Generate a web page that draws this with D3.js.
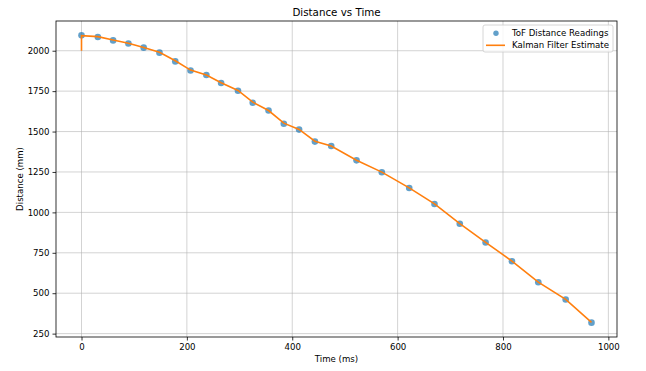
<!DOCTYPE html>
<html>
<head>
<meta charset="utf-8">
<script src="https://cdn.jsdelivr.net/npm/d3@7"></script>
<style>
  body { margin: 0; background: #fff; }
  text { font-family: "DejaVu Sans", sans-serif; fill: #000; }
</style>
</head>
<body>
<div id="chart"></div>
<script>
// ToF readings (time in ms, distance in mm)
var readTime = [0, 31, 60, 89, 118, 148, 178, 207, 237, 265, 297, 325, 355, 384, 413, 443, 474, 522, 570, 622, 670, 718, 767, 817, 867, 919, 968];
var readDist = [2095, 2085, 2064, 2045, 2019, 1988, 1934, 1878, 1850, 1800, 1752, 1678, 1630, 1548, 1512, 1438, 1411, 1322, 1248, 1151, 1052, 930, 814, 698, 568, 461, 318];

// Kalman filter estimate
var kfTime = [0, 0, 31, 60, 89, 118, 148, 178, 207, 237, 265, 297, 325, 355, 384, 413, 443, 474, 522, 570, 622, 670, 718, 767, 817, 867, 919, 968];
var kfDist = [2000, 2093, 2087, 2066, 2046, 2020, 1990, 1938, 1880, 1850, 1802, 1754, 1682, 1630, 1552, 1513, 1440, 1411, 1323, 1249, 1152, 1053, 931, 815, 699, 569, 462, 320];

var xTicks = [0, 200, 400, 600, 800, 1000];
var yTicks = [250, 500, 750, 1000, 1250, 1500, 1750, 2000];

var svgWidth = 646;
var svgHeight = 371;

var margin = { top: 21, right: 29, bottom: 34, left: 56 };
var chartWidth = svgWidth - margin.left - margin.right;
var chartHeight = svgHeight - margin.top - margin.bottom;

var svg = d3.select("#chart")
  .append("svg")
  .attr("width", svgWidth)
  .attr("height", svgHeight);

var chartGroup = svg.append("g")
  .attr("transform", `translate(${margin.left}, ${margin.top})`);

// matplotlib-like 5% padding
var xExt = d3.extent(readTime);
var xPad = (xExt[1] - xExt[0]) * 0.05;
var yExt = d3.extent(readDist.concat(kfDist));
var yPad = (yExt[1] - yExt[0]) * 0.05;

var xScale = d3.scaleLinear().domain([xExt[0] - xPad, xExt[1] + xPad]).range([0, chartWidth]);
var yScale = d3.scaleLinear().domain([yExt[0] - yPad, yExt[1] + yPad]).range([chartHeight, 0]);

// Grid
chartGroup.append("g").selectAll("line.vx").data(xTicks).enter()
  .append("line")
  .attr("x1", d => xScale(d)).attr("x2", d => xScale(d))
  .attr("y1", 0).attr("y2", chartHeight)
  .attr("stroke", "#b0b0b0").attr("stroke-opacity", 0.7).attr("stroke-width", 0.8);

chartGroup.append("g").selectAll("line.hy").data(yTicks).enter()
  .append("line")
  .attr("x1", 0).attr("x2", chartWidth)
  .attr("y1", d => yScale(d)).attr("y2", d => yScale(d))
  .attr("stroke", "#b0b0b0").attr("stroke-opacity", 0.7).attr("stroke-width", 0.8);

// Axes
var bottomAxis = d3.axisBottom(xScale).tickValues(xTicks).tickFormat(d3.format("d")).tickSize(3.5).tickPadding(3);
var leftAxis = d3.axisLeft(yScale).tickValues(yTicks).tickFormat(d3.format("d")).tickSize(3.5).tickPadding(3);

var gx = chartGroup.append("g").attr("transform", `translate(0, ${chartHeight})`).call(bottomAxis);
var gy = chartGroup.append("g").call(leftAxis);
[gx, gy].forEach(function(g) {
  g.attr("font-family", null).attr("font-size", null);
  g.select(".domain").remove();
  g.selectAll("text").style("font-family", "'DejaVu Sans', sans-serif").style("font-size", "8.6px").attr("fill", "#000");
  g.selectAll("line").attr("stroke", "#000").attr("stroke-width", 0.8);
});

// Spines
chartGroup.append("rect")
  .attr("width", chartWidth).attr("height", chartHeight)
  .attr("fill", "none").attr("stroke", "#000").attr("stroke-width", 0.8);

// Points
chartGroup.selectAll("circle.pt").data(readTime).enter().append("circle")
  .attr("cx", (d, i) => xScale(d))
  .attr("cy", (d, i) => yScale(readDist[i]))
  .attr("r", 3.3)
  .attr("fill", "#1f77b4")
  .attr("fill-opacity", 0.7);

// Kalman line
var line = d3.line().x((d, i) => xScale(d)).y((d, i) => yScale(kfDist[i]));
chartGroup.append("path")
  .datum(kfTime)
  .attr("d", line)
  .attr("fill", "none")
  .attr("stroke", "#ff7f0e")
  .attr("stroke-width", 1.6);

// Title and labels
svg.append("text")
  .attr("x", margin.left + chartWidth / 2).attr("y", 16)
  .attr("text-anchor", "middle").style("font-size", "10.3px")
  .text("Distance vs Time");

svg.append("text")
  .attr("x", margin.left + chartWidth / 2).attr("y", 362)
  .attr("text-anchor", "middle").style("font-size", "8.6px")
  .text("Time (ms)");

svg.append("text")
  .attr("transform", `translate(23, ${margin.top + chartHeight / 2}) rotate(-90)`)
  .attr("text-anchor", "middle").style("font-size", "8.6px")
  .text("Distance (mm)");

// Legend
var legend = svg.append("g").attr("transform", "translate(483, 25)");
legend.append("rect")
  .attr("width", 130).attr("height", 27).attr("rx", 2)
  .attr("fill", "#fff").attr("fill-opacity", 0.8)
  .attr("stroke", "#ccc").attr("stroke-width", 0.8);
legend.append("circle").attr("cx", 13).attr("cy", 8.3).attr("r", 2.7)
  .attr("fill", "#1f77b4").attr("fill-opacity", 0.7);
legend.append("line").attr("x1", 3).attr("x2", 22).attr("y1", 20.3).attr("y2", 20.3)
  .attr("stroke", "#ff7f0e").attr("stroke-width", 1.6);
legend.append("text").attr("x", 29).attr("y", 11.3).style("font-size", "8.6px").text("ToF Distance Readings");
legend.append("text").attr("x", 29).attr("y", 23.3).style("font-size", "8.6px").text("Kalman Filter Estimate");
</script>
</body>
</html>
